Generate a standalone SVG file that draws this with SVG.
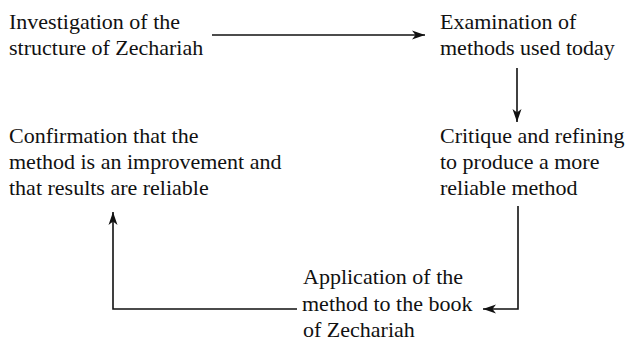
<svg xmlns="http://www.w3.org/2000/svg" width="629" height="341" viewBox="0 0 629 341">
<style>
text{font-family:"Liberation Serif","Times New Roman",serif;font-size:22px;fill:#111}
.c{fill:none;stroke:#111;stroke-width:1.6}
</style>
<defs>
<marker id="ah" markerUnits="userSpaceOnUse" markerWidth="14" markerHeight="10" refX="13" refY="5" orient="auto" viewBox="0 0 14 10">
<path d="M0,0.5 L13,5 L0,9.5 L3.5,5 Z" fill="#111"/>
</marker>
</defs>
<rect width="629" height="341" fill="#fff"/>
<g id="n1"><text x="9" y="29">Investigation of the</text><text x="9" y="55">structure of Zechariah</text></g>
<g id="n2"><text x="440" y="29">Examination of</text><text x="440" y="55">methods used today</text></g>
<g id="n3"><text x="440" y="143">Critique and refining</text><text x="440" y="169">to produce a more</text><text x="440" y="195">reliable method</text></g>
<g id="n4"><text x="303" y="284">Application of the</text><text x="302" y="311">method to the book</text><text x="303" y="337">of Zechariah</text></g>
<g id="n5"><text x="9" y="143">Confirmation that the</text><text x="9" y="169">method is an improvement and</text><text x="9" y="195">that results are reliable</text></g>
<g id="connectors">
<path class="c" d="M212,35 H425" marker-end="url(#ah)"/>
<path class="c" d="M517,68 V122" marker-end="url(#ah)"/>
<path class="c" d="M518,206 V309 H483" marker-end="url(#ah)"/>
<path class="c" d="M297,309 H113 V212" marker-end="url(#ah)"/>
</g>
</svg>
